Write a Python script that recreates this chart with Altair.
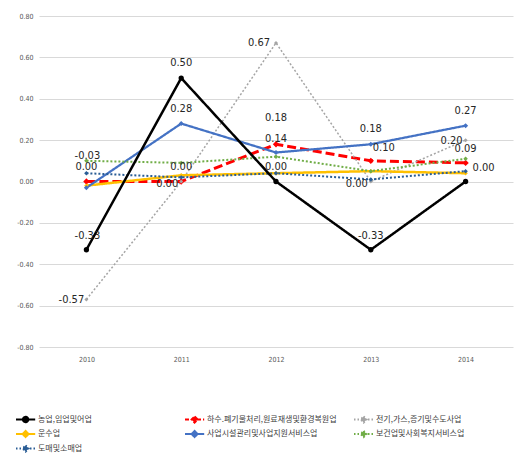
import altair as alt
import pandas as pd

# ---- data -------------------------------------------------------------
years = [2010, 2011, 2012, 2013, 2014]

series_names = [
    "농업,임업및어업",
    "하수.폐기물처리,원료재생및환경복원업",
    "전기,가스,증기및수도사업",
    "운수업",
    "사업시설관리및사업지원서비스업",
    "보건업및사회복지서비스업",
    "도매및소매업",
]

agri = [-0.33, 0.50, 0.00, -0.33, 0.00]
sewage = [0.00, 0.00, 0.18, 0.10, 0.09]
utility = [-0.57, 0.00, 0.67, 0.00, 0.20]
transport = [-0.02, 0.03, 0.04, 0.05, 0.04]
business = [-0.03, 0.28, 0.14, 0.18, 0.27]
health = [0.10, 0.09, 0.12, 0.05, 0.11]
trade = [0.04, 0.02, 0.04, 0.01, 0.05]

values = [agri, sewage, utility, transport, business, health, trade]

# ---- styling ----------------------------------------------------------
colors = ["#000000", "#ff0000", "#a5a5a5", "#ffc000", "#4472c4", "#70ad47", "#2a5d95"]
widths = [2.5, 3, 1.5, 2.5, 2.25, 2, 2]
dashes = [[1, 0], [9, 4], [2, 2], [1, 0], [1, 0], [2, 2], [2, 2]]
marker_shape = ["circle", "diamond", "diamond", "diamond", "diamond", "diamond", "diamond"]
marker_size = [28, 40, 16, 20, 25, 20, 20]
draw_order = [1, 2, 3, 4, 5, 6, 0]

# series that carry value labels, with each label's pixel offset (dx, dy)
label_offsets = {
    0: [(1, -14), (0, -15), (0, -15), (0, -14), (18, -14)],
    1: [(0, -15), (-14, 2), (0, -26), (13, -13), (0, -14)],
    2: [(-15, 1), (0, -15), (-17, 0), (-14, 2), (-14, 1)],
    4: [(1, -32), (0, -15), (0, -14), (0, -15), (0, -15)],
}

NUM_FONT = "Liberation Sans Narrow, DejaVu Sans Condensed, sans-serif"
KR_FONT = "Noto Sans CJK KR, sans-serif"

rows = []
for name, vals in zip(series_names, values):
    for yr, v in zip(years, vals):
        rows.append({"series": name, "year": yr, "value": v})
df = pd.DataFrame(rows)

label_rows = []
for idx, offs in label_offsets.items():
    for yr, v, (dx, dy) in zip(years, values[idx], offs):
        label_rows.append({"series": series_names[idx], "year": yr, "value": v,
                           "label": f"{v:.2f}", "dx": dx, "dy": dy})
labels_df = pd.DataFrame(label_rows)

x_enc = alt.X(
    "year:O",
    scale=alt.Scale(type="point", padding=0.5),
    axis=alt.Axis(title=None, labelAngle=0, domain=False, ticks=False, grid=False,
                  labelFontSize=7, labelColor="#595959", labelFont=NUM_FONT,
                  labelPadding=8),
)
y_enc = alt.Y(
    "value:Q",
    scale=alt.Scale(domain=[-0.8, 0.8], nice=False, zero=False),
    axis=alt.Axis(title=None, values=[-0.8, -0.6, -0.4, -0.2, 0, 0.2, 0.4, 0.6, 0.8],
                  format=".2f", domain=False, ticks=False, grid=True,
                  gridColor="#d9d9d9", gridWidth=1, labelFontSize=7,
                  labelColor="#595959", labelFont=NUM_FONT, labelPadding=6,
                  labelExpr="replace(datum.label, '\u2212', '-')"),
)

layers = []
for i in draw_order:
    sub = df[df["series"] == series_names[i]]
    layers.append(
        alt.Chart(sub)
        .mark_line(color=colors[i], strokeWidth=widths[i], strokeDash=dashes[i])
        .encode(x=x_enc, y=y_enc)
    )
for i in draw_order:
    sub = df[df["series"] == series_names[i]]
    layers.append(
        alt.Chart(sub)
        .mark_point(filled=True, shape=marker_shape[i], size=marker_size[i],
                    color=colors[i], opacity=1)
        .encode(x=x_enc, y=y_enc)
    )

# value labels, one text layer per offset
for (dx, dy), grp in labels_df.groupby(["dx", "dy"]):
    layers.append(
        alt.Chart(grp)
        .mark_text(font=NUM_FONT, fontSize=11, color="#262626", align="center",
                   baseline="middle", dx=int(dx), dy=int(dy))
        .encode(x=x_enc, y=y_enc, text="label:N")
    )

# legend: line-with-marker symbols (path drawn wider than the nominal symbol box)
line_diamond = "M-1,0L2.2,0M0.6,-0.5L1.1,0L0.6,0.5L0.1,0Z"
line_circle = "M-1,0L2.2,0M0.15,0A0.45,0.45,0,1,0,1.05,0A0.45,0.45,0,1,0,0.15,0Z"
legend_shapes = [line_circle] + [line_diamond] * 6
legend_dashes = [[1, 0], [4, 2], [1.5, 2], [1, 0], [1, 0], [1.5, 2], [1.5, 2]]

legend = alt.Legend(
    title=None, orient="none", legendX=-24, legendY=397, columns=3,
    direction="horizontal", gridAlign="all", columnPadding=16, rowPadding=1.5,
    clipHeight=13, symbolSize=144, symbolStrokeWidth=2, labelFont=KR_FONT,
    labelFontSize=8, labelColor="#404040", labelLimit=300, labelOffset=9,
    padding=0,
)
domain = series_names
layers.append(
    alt.Chart(df)
    .transform_filter("false")
    .mark_point(filled=True, opacity=1, strokeWidth=2)
    .encode(
        x=x_enc,
        y=y_enc,
        fill=alt.Fill("series:N", scale=alt.Scale(domain=domain, range=colors), legend=legend),
        stroke=alt.Stroke("series:N", scale=alt.Scale(domain=domain, range=colors), legend=legend),
        shape=alt.Shape("series:N", scale=alt.Scale(domain=domain, range=legend_shapes), legend=legend),
        strokeDash=alt.StrokeDash("series:N", scale=alt.Scale(domain=domain, range=legend_dashes), legend=legend),
    )
)

chart = (
    alt.layer(*layers)
    .properties(
        width=474, height=331, autosize=alt.AutoSizeParams(type="none"),
        padding={"left": 39, "top": 16, "right": 6, "bottom": 110},
        background="#ffffff",
    )
    .configure_view(stroke=None)
)

chart.save("out.html", embed_options={"renderer": "svg", "actions": False})
